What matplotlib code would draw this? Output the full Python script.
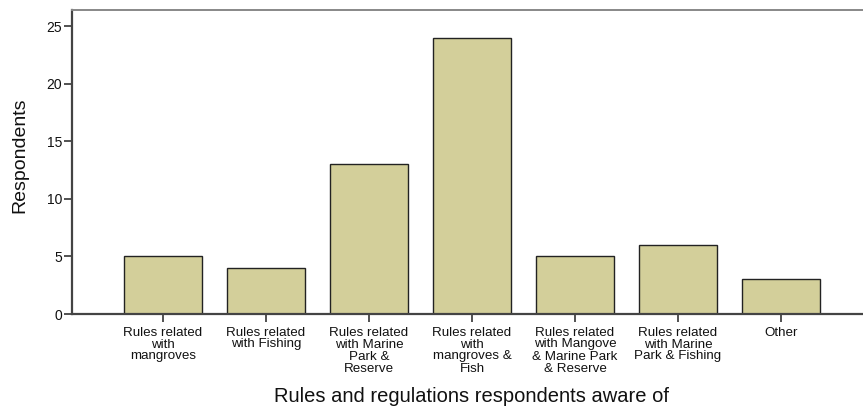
import matplotlib
matplotlib.use("Agg")
import matplotlib.pyplot as plt

# ---------- Data ----------
categories = [
    "Rules related\nwith\nmangroves",
    "Rules related\nwith Fishing",
    "Rules related\nwith Marine\nPark &\nReserve",
    "Rules related\nwith\nmangroves &\nFish",
    "Rules related\nwith Mangove\n& Marine Park\n& Reserve",
    "Rules related\nwith Marine\nPark & Fishing",
    "Other",
]
respondents = [5, 4, 13, 24, 5, 6, 3]
yticks = [0, 5, 10, 15, 20, 25]

plt.rcParams['font.family'] = ['Liberation Sans', 'DejaVu Sans']

# ---------- Plot ----------
fig = plt.figure(figsize=(8.63, 4.07), dpi=100)
ax = fig.add_axes([72 / 863, 93 / 407, (875 - 72) / 863, 304 / 407])

x = list(range(len(categories)))
ax.bar(x, respondents, width=0.757, color="#d3cf9a", edgecolor="#222222", linewidth=1.0, zorder=2)

ax.set_xlim(-0.883, (875 - 163) / 103)
ax.set_ylim(0, 26.4)
ax.set_yticks(yticks)
ax.set_xticks(x)
ax.set_xticklabels(categories, fontsize=9.6, linespacing=1.0, va="top", color="#111111")
ax.tick_params(axis="y", labelsize=10, length=6, width=1.2, colors="#333333", labelcolor="#111111", pad=1)
ax.tick_params(axis="x", length=6, width=1.2, colors="#333333", labelcolor="#111111", pad=3)

for side in ["left", "bottom"]:
    ax.spines[side].set_linewidth(1.6)
    ax.spines[side].set_color("#444444")
ax.spines["top"].set_linewidth(1.4)
ax.spines["top"].set_color("#888888")
ax.spines["right"].set_visible(False)

fig.text(20 / 863, 1 - 155 / 407, "Respondents", rotation=90, fontsize=14,
         ha="center", va="center", color="#111111")
fig.text(471 / 863, 1 - 402 / 407, "Rules and regulations respondents aware of",
         fontsize=14.5, ha="center", va="baseline", color="#111111")

fig.savefig("out.png", dpi=100)
